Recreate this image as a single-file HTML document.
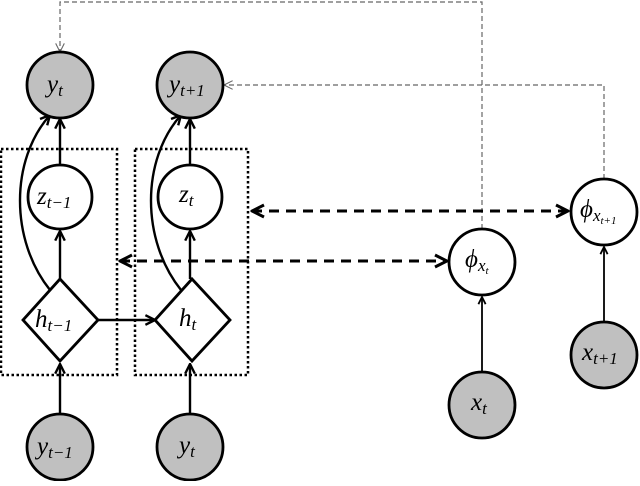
<!DOCTYPE html>
<html><head><style>
body{margin:0;background:#fff}
svg text{font-family:"Liberation Serif",serif;font-style:italic}
</style></head><body>
<svg width="640" height="481" viewBox="0 0 640 481" xmlns="http://www.w3.org/2000/svg">
<defs>
<marker id="a" viewBox="0 0 10 10" refX="9" refY="5" markerWidth="5" markerHeight="5" orient="auto-start-reverse"><path d="M1,1 L9,5 L1,9" fill="none" stroke="#000" stroke-width="2"/></marker>
<marker id="g" viewBox="0 0 10 10" refX="9" refY="5" markerWidth="9" markerHeight="9" orient="auto"><path d="M1,1 L9,5 L1,9" fill="none" stroke="#666" stroke-width="1"/></marker>
</defs>
<g fill="none" stroke="#000" stroke-width="2.5" stroke-dasharray="2.5,2.5">
<rect x="1" y="149" width="116" height="226"/>
<rect x="135" y="149" width="113" height="226"/>
</g>
<g fill="none" stroke="#666" stroke-width="1.2" stroke-dasharray="5,3">
<path d="M482,229 V2 H60 V52" marker-end="url(#g)"/>
<path d="M604,179 V85 H224" marker-end="url(#g)"/>
</g>
<g fill="none" stroke="#000" stroke-width="3" stroke-dasharray="10,7">
<path d="M252,211 H568" marker-start="url(#a)" marker-end="url(#a)"/>
<path d="M120,261 H447" marker-start="url(#a)" marker-end="url(#a)"/>
</g>
<g fill="none" stroke="#000" stroke-width="2.4">
<path d="M60,414 V364" marker-end="url(#a)"/>
<path d="M190,414 V364" marker-end="url(#a)"/>
<path d="M60,279 V231" marker-end="url(#a)"/>
<path d="M190,279 V231" marker-end="url(#a)"/>
<path d="M60,165 V119" marker-end="url(#a)"/>
<path d="M190,165 V119" marker-end="url(#a)"/>
<path d="M98,320 H155" marker-end="url(#a)"/>
<path d="M50,290 C10,240 10,160 50,115" marker-end="url(#a)"/>
<path d="M181,290 C141,240 141,160 181,115" marker-end="url(#a)"/>
</g>
<g fill="none" stroke="#000" stroke-width="1.8">
<path d="M482,372 V297" marker-end="url(#a)"/>
<path d="M604,322 V247" marker-end="url(#a)"/>
</g>
<g stroke="#000" stroke-width="2.8">
<circle cx="60" cy="85" r="33" fill="#c0c0c0"/>
<circle cx="190" cy="85" r="33" fill="#c0c0c0"/>
<circle cx="60" cy="197" r="32" fill="#fff"/>
<circle cx="190" cy="197" r="32" fill="#fff"/>
<circle cx="60" cy="447" r="33" fill="#c0c0c0"/>
<circle cx="190" cy="447" r="33" fill="#c0c0c0"/>
<circle cx="482" cy="262" r="33" fill="#fff"/>
<circle cx="482" cy="405" r="33" fill="#c0c0c0"/>
<circle cx="604" cy="212" r="33" fill="#fff"/>
<circle cx="604" cy="355" r="33" fill="#c0c0c0"/>
<path d="M60,279 L98,320 L60,361 L23,320 Z" fill="#fff"/>
<path d="M192,279 L230,320 L192,361 L155,320 Z" fill="#fff"/>
</g>
<g font-size="25" fill="#000">
<text x="47" y="92">y<tspan font-size="17" dy="4">t</tspan></text>
<text x="169" y="92">y<tspan font-size="17" dy="4">t+1</tspan></text>
<text x="37" y="204">z<tspan font-size="17" dy="4">t−1</tspan></text>
<text x="179" y="202">z<tspan font-size="17" dy="4">t</tspan></text>
<text x="35" y="327">h<tspan font-size="17" dy="4">t−1</tspan></text>
<text x="179" y="326">h<tspan font-size="17" dy="4">t</tspan></text>
<text x="37" y="454">y<tspan font-size="17" dy="4">t−1</tspan></text>
<text x="179" y="453">y<tspan font-size="17" dy="4">t</tspan></text>
<text x="465" y="267">ϕ<tspan font-size="17" dy="4">x</tspan><tspan font-size="11" dy="3">t</tspan></text>
<text x="580" y="217">ϕ<tspan font-size="17" dy="4">x</tspan><tspan font-size="11" dy="3">t+1</tspan></text>
<text x="471" y="410">x<tspan font-size="17" dy="4">t</tspan></text>
<text x="582" y="360">x<tspan font-size="17" dy="4">t+1</tspan></text>
</g>
</svg>
</body></html>
